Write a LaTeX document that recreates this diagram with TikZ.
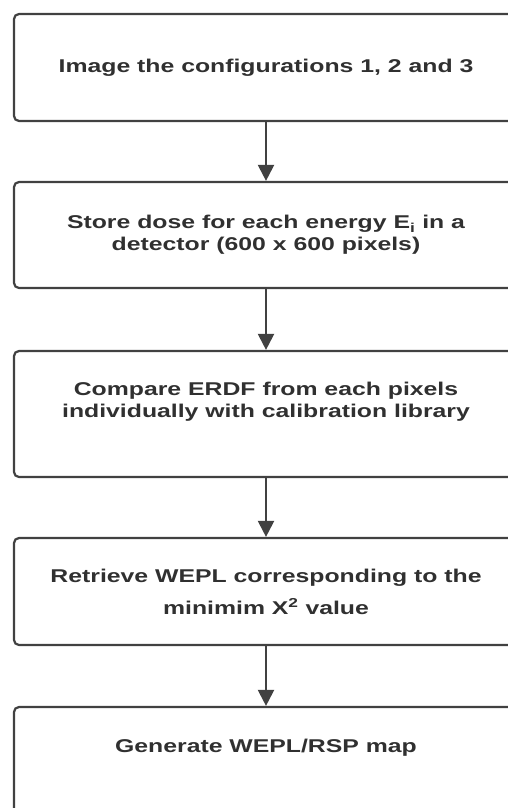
\documentclass[tikz,border=0pt]{standalone}
\usepackage{fontspec}
\setmainfont[FakeStretch=1.34]{Liberation Sans}
\usepackage{tikz}
\usetikzlibrary{arrows.meta}
\definecolor{linegray}{RGB}{65,65,65}
\definecolor{textgray}{RGB}{48,48,48}

\begin{document}
\begin{tikzpicture}[x=1pt,y=-1pt,
  stepbox/.style={draw=linegray,line width=2.2pt,rounded corners=5pt,minimum width=504pt,
    inner sep=0pt,align=center,text=textgray,font=\fontsize{18.5}{22}\selectfont\bfseries},
  flow/.style={draw=linegray,line width=2.2pt,-{Triangle[length=16pt,width=16pt]}}]
  \useasboundingbox (0,0) rectangle (508,808);
  % Steps
  \node[stepbox,minimum height=107pt] (image) at (266,67.5) {Image the configurations 1, 2 and 3};
  \node[stepbox,minimum height=106pt] (store) at (266,235) {Store dose for each energy E\textsubscript{i} in a\\detector (600 x 600 pixels)};
  \node[stepbox,minimum height=126pt] (compare) at (266,414) {Compare ERDF from each pixels\\individually with calibration library\\[6pt]};
  \node[stepbox,minimum height=107pt] (retrieve) at (266,591.5) {Retrieve WEPL corresponding to the\\[10pt]minimim X\textsuperscript{2} value};
  \node[stepbox,minimum height=106pt] (generate) at (266,760) {Generate WEPL/RSP map\\[6pt]};
  % Arrows
  \draw[flow] (image) -- (store);
  \draw[flow] (store) -- (compare);
  \draw[flow] (compare) -- (retrieve);
  \draw[flow] (retrieve) -- (generate);
\end{tikzpicture}
\end{document}
